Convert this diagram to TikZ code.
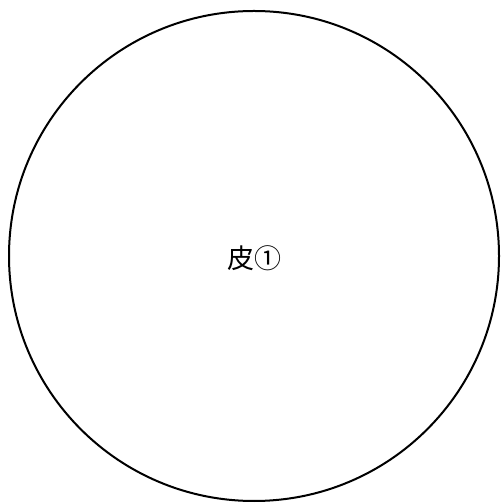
\documentclass[tikz,border=0pt]{standalone}
\usepackage{fontspec}
\newfontfamily\cjk{Noto Sans CJK JP}
\usetikzlibrary{positioning}

\begin{document}
\begin{tikzpicture}[
  x=1pt, y=1pt,
  part/.style={draw, circle, line width=2pt, minimum size=490pt, inner sep=0pt},
  lbl/.style={font=\cjk\fontsize{27}{30}\selectfont}
]
  \useasboundingbox (0,0) rectangle (502,503);
  \node[part] (skin) at (254,247) {};
  \node[lbl] (skinlbl) at (254,245) {皮①};
\end{tikzpicture}
\end{document}
